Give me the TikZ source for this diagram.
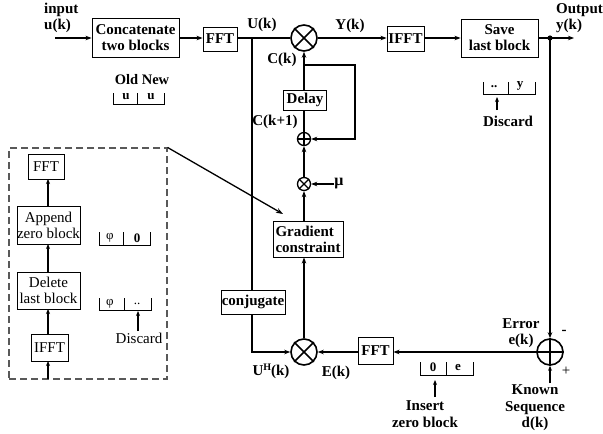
\documentclass[tikz,border=0pt]{standalone}
\usepackage{fontspec}
\setmainfont{Liberation Serif}
\usetikzlibrary{arrows.meta}
\begin{document}
\begin{tikzpicture}[x=1pt,y=-1pt,
  bx/.style={draw, line width=0.9pt, inner sep=0pt, align=center, font=\bfseries\fontsize{15}{16}\selectfont},
  dbx/.style={draw, line width=0.8pt, inner sep=0pt, align=center, font=\fontsize{15}{16}\selectfont},
  lab/.style={inner sep=0pt, align=center, font=\bfseries\fontsize{15}{16.5}\selectfont},
  dlab/.style={inner sep=0pt, align=center, font=\fontsize{15}{16}\selectfont},
  slab/.style={inner sep=0pt, font=\bfseries\fontsize{13}{13}\selectfont},
  sdlab/.style={inner sep=0pt, font=\fontsize{13}{13}\selectfont},
  bigc/.style={circle, draw, line width=1.6pt, minimum size=26pt, inner sep=0pt},
  smc/.style={circle, draw, line width=1.3pt, minimum size=13pt, inner sep=0pt},
  ln/.style={line width=1.5pt},
  arr/.style={line width=1.5pt, -{Stealth[length=6pt,width=4.5pt]}},
  thin/.style={line width=1pt},
  tarr/.style={line width=1.2pt, -{Stealth[length=5pt,width=4pt]}}]
\useasboundingbox (0,0) rectangle (603,434);

% ---- top row ----
\node[lab, anchor=west, align=left] (inp) at (44,18) {input\\u(k)};
\coordinate (inl) at (55,38);
\node[bx, minimum width=87pt, minimum height=39pt] (concat) at (135.5,38) {Concatenate\\two blocks};
\node[bx, minimum width=34pt, minimum height=24pt] (fft1) at (220,39) {FFT};
\node[bigc] (m1) at (304,38) {};
\draw[line width=1.6pt] (m1.north west) -- (m1.south east) (m1.north east) -- (m1.south west);
\node[bx, minimum width=37pt, minimum height=25pt] (ifft1) at (405.5,39) {IFFT};
\node[bx, minimum width=77pt, minimum height=38pt] (save) at (499.5,38) {Save\\last block};
\coordinate (dot) at (550,38);
\coordinate (out) at (574,38);
\node[lab, anchor=west, align=left] (outl) at (556,18) {Output\\y(k)};
\node[lab] (Ul) at (262,25) {U(k)};
\node[lab] (Yl) at (350,26) {Y(k)};
\node[lab] (Cl) at (282,60) {C(k)};

\draw[arr] (inl) -- (concat.west);
\draw[arr] (concat.east) -- (fft1.west |- concat.east);
\draw[ln] (fft1.east |- m1.west) -- (m1.west);
\draw[arr] (m1.east) -- (ifft1.west |- m1.east);
\draw[arr] (ifft1.east |- m1.east) -- (save.west);
\draw[arr] (save.east) -- (out);
\fill (dot) circle (2.6pt);

% Old New block
\node[lab, font=\bfseries\fontsize{14.5}{16}\selectfont] (oldnew) at (142,80) {Old New};
\draw[thin] (113,93) |- (164,104) -- (164,93);
\draw[thin] (137,93) -- (137,104);
\node[slab] (u1) at (126,97) {u};
\node[slab] (u2) at (151,97) {u};

% .. y block
\draw[thin] (483,82) |- (535,94) -- (535,82);
\draw[thin] (508,82) -- (508,94);
\node[slab] (dd1) at (494,87) {..};
\node[slab] (yy) at (520,86) {y};
\node[lab] (disc1) at (508,121) {Discard};
\draw[tarr] (497,110) -- (497,97);

% ---- middle column ----
\coordinate (j1) at (252,38);
\node[bx, minimum width=43pt, minimum height=20pt] (delay) at (305,100) {Delay};
\node[lab] (Ck1) at (275,122) {C(k+1)};
\node[smc] (op) at (304,139) {};
\draw[line width=1.3pt] (op.north) -- (op.south) (op.west) -- (op.east);
\node[smc] (ot) at (304,184) {};
\draw[line width=1.3pt] (ot.north west) -- (ot.south east) (ot.north east) -- (ot.south west);
\node[lab, font=\bfseries\fontsize{16}{16}\selectfont] (mu) at (339,184) {μ};
\node[bx, minimum width=70pt, minimum height=36pt, align=left] (grad) at (308,239) {Gradient\\constraint};
\node[bx, minimum width=64pt, minimum height=24pt] (conj) at (253,302) {conjugate};
\coordinate (lp) at (304,65);

\draw[arr] (delay.north -| m1.south) -- (m1.south);
\draw[arr] (lp) -- ++(51,0) |- (op.east);
\draw[ln] (op.north) -- (op.north |- delay.south);
\draw[arr] (ot.north) -- (op.south);
\draw[arr] (mu.west) -- (ot.east);
\draw[arr] (ot.south |- grad.north) -- (ot.south);
\draw[ln] (j1) -- (j1 |- conj.north);

% ---- bottom row ----
\node[bigc] (m2) at (304,352) {};
\draw[line width=1.6pt] (m2.north west) -- (m2.south east) (m2.north east) -- (m2.south west);
\node[bx, minimum width=35pt, minimum height=27pt] (fft2) at (375.5,351) {FFT};
\node[bigc] (err) at (550,352) {};
\draw[line width=1.6pt] (err.north) -- (err.south) (err.west) -- (err.east);
\node[lab] (UH) at (271,371) {U\raisebox{5pt}{\fontsize{10}{10}\selectfont H}(k)};
\node[lab] (El) at (336,373) {E(k)};
\node[lab] (errl) at (521,333) {Error\\e(k)};
\node[lab] (minus) at (564,332) {-};
\node[dlab] (plus) at (566,371) {+};
\node[lab] (known) at (535,408) {Known\\Sequence\\d(k)};
\coordinate (kn) at (550,383);

\draw[arr] (j1 |- conj.south) |- (m2.west);
\draw[arr] (m2.north) -- (m2.north |- grad.south);
\draw[arr] (fft2.west |- m2.east) -- (m2.east);
\draw[arr] (err.west) -- (fft2.east |- err.west);
\draw[arr] (dot) -- (err.north);
\draw[tarr] (kn) -- (err.south);

% 0 e block
\draw[thin] (420,362) |- (473,375) -- (473,362);
\draw[thin] (446,362) -- (446,375);
\node[slab] (z0) at (433,367) {0};
\node[slab] (ee) at (458,367) {e};
\node[lab] (ins) at (425,414) {Insert\\zero block};
\draw[tarr] (435,397) -- (435,380);

% ---- dashed inset ----
\node[draw, gray!70!black, dash pattern=on 7pt off 4pt, line width=1.1pt, minimum width=158pt, minimum height=231pt, inner sep=0pt] (dbox) at (88,263.5) {};
\node[dbx, minimum width=36pt, minimum height=25pt] (fftd) at (46,166.5) {FFT};
\node[dbx, minimum width=63pt, minimum height=38pt] (app) at (48.5,225) {Append\\zero block};
\node[dbx, minimum width=63pt, minimum height=37pt] (del) at (48.5,290.5) {Delete\\last block};
\node[dbx, minimum width=37pt, minimum height=27pt] (ifftd) at (49.5,347.5) {IFFT};
\coordinate (dbot) at (48,379);

\draw[tarr] (48,206) -- (48,179);
\draw[tarr] (48,272) -- (48,244);
\draw[tarr] (48,334) -- (48,309);
\draw[tarr] (dbot) -- (48,361);

\draw[thin] (99,232) |- (150,245) -- (150,232);
\draw[thin] (123,232) -- (123,245);
\node[sdlab] (ph1) at (110,238) {φ};
\node[slab] (z1) at (137,238) {0};

\draw[thin] (99,298) |- (151,310) -- (151,298);
\draw[thin] (124,298) -- (124,310);
\node[sdlab] (ph2) at (110,304) {φ};
\node[sdlab] (dd2) at (137,304) {..};
\node[dlab] (disc2) at (139,338) {Discard};
\draw[tarr] (138,331) -- (138,311);

\coordinate (gt) at (283,214);
\draw[line width=1.3pt, -{Stealth[length=7pt,width=5pt]}] (dbox.north east) -- (gt);
\end{tikzpicture}
\end{document}
